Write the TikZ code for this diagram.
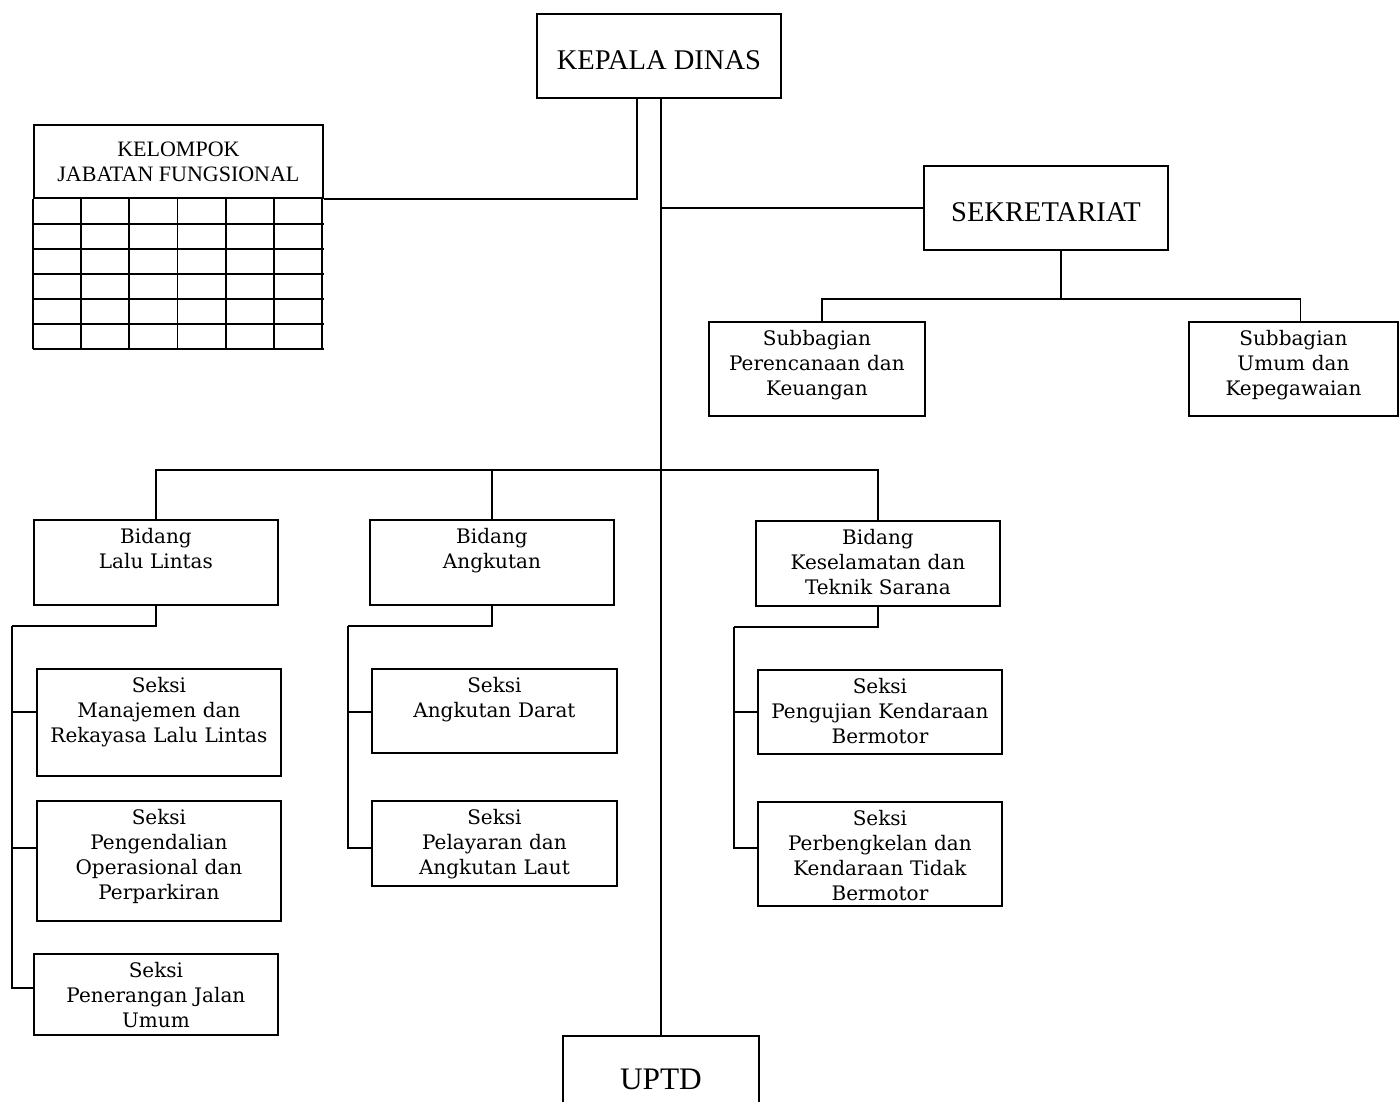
\documentclass[tikz,border=0pt]{standalone}
\usepackage{fontspec}
\setmainfont{Liberation Serif}
\newfontfamily\bookfont{DejaVu Serif}
\usetikzlibrary{calc,positioning}

\tikzset{
  box/.style={draw, line width=1.4pt, inner sep=0pt, anchor=north west, align=center},
  chief/.style={box, minimum width=183pt, minimum height=63pt, text height=21pt, text depth=0pt,
    font=\fontsize{21.4}{24}\selectfont},
  unit/.style 2 args={box, text width=#1, text height=18pt, text depth=#2,
    font=\bookfont\fontsize{15}{18.75}\selectfont},
  link/.style={line width=1.4pt},
}

\begin{document}
\begin{tikzpicture}[x=0.75pt, y=-0.75pt]
\useasboundingbox (0,0) rectangle (1399,1102);

% pimpinan
\node[chief] (kadis) at (536,13) {KEPALA DINAS};
\node[chief] (sekr) at (923,165) {SEKRETARIAT};
\node[box, minimum width=216.75pt, minimum height=54.75pt,
  font=\fontsize{16.5}{18.75}\selectfont] (kjf) at (33,124) {KELOMPOK\\JABATAN FUNGSIONAL};
\node[chief, minimum width=147pt, minimum height=64.5pt, text height=16pt,
  font=\fontsize{23.5}{26}\selectfont] (uptd) at (562,1035) {UPTD};

% subbagian
\node[unit={162pt}{52.5pt}] (sub1) at (708,321) {Subbagian\\Perencanaan dan\\Keuangan};
\node[unit={156.75pt}{52.5pt}] (sub2) at (1188,321) {Subbagian\\Umum dan\\Kepegawaian};

% bidang
\node[unit={183pt}{45.75pt}] (bid1) at (33,519) {Bidang\\Lalu Lintas};
\node[unit={183pt}{45.75pt}] (bid2) at (369,519) {Bidang\\Angkutan};
\node[unit={183pt}{45.75pt}] (bid3) at (755,520) {Bidang\\Keselamatan dan\\Teknik Sarana};

% seksi
\node[unit={183pt}{62.25pt}] (s11) at (36,668) {Seksi\\Manajemen dan\\Rekayasa Lalu Lintas};
\node[unit={183pt}{72pt}] (s12) at (36,800) {Seksi\\Pengendalian\\Operasional dan\\Perparkiran};
\node[unit={183pt}{42.75pt}] (s13) at (33,953) {Seksi\\Penerangan Jalan\\Umum};
\node[unit={183.75pt}{45pt}] (s21) at (371,668) {Seksi\\Angkutan Darat};
\node[unit={183.75pt}{45.75pt}] (s22) at (371,800) {Seksi\\Pelayaran dan\\Angkutan Laut};
\node[unit={183pt}{45pt}] (s31) at (757,669) {Seksi\\Pengujian Kendaraan\\Bermotor};
\node[unit={183pt}{60pt}] (s32) at (757,801) {Seksi\\Perbengkelan dan\\Kendaraan Tidak\\Bermotor};

\coordinate (rail1) at (12,626);
\coordinate (rail2) at (348,626);
\coordinate (rail3) at (734,627);

% tabel jabatan fungsional
\foreach \r in {1,...,6}
  \draw[link] ($(kjf.south west)+(0,25*\r)$) -- ($(kjf.south east)+(0,25*\r)$);
\foreach \c in {0,...,6}
  \draw[link] ($(kjf.south west)+(48.17*\c,0)$) -- ++(0,150);

% garis komando
\draw[link] (kadis.south -| uptd.north) -- (uptd.north);
\draw[link] (kjf.south east) -| ($(kadis.south)+(-22,0)$);
\draw[link] (sekr.west) -- (sekr.west -| uptd.north);
\draw[link] ($(sekr.south)+(15,0)$) -- ++(0,48);
\draw[link] ($(sub1.north)+(5,0)$) |- ($(sekr.south)+(15,48)$) -| ($(sub2.north)+(7,0)$);
\draw[link] (bid1.north) -- ++(0,-49) -| (bid3.north);
\draw[link] (bid2.north) -- ++(0,-49);
\draw[link] (bid1.south) |- (rail1);
\draw[link] (bid2.south) |- (rail2);
\draw[link] (bid3.south) |- (rail3);
\foreach \s/\r/\d in {s11/rail1/44, s12/rail1/48, s13/rail1/35, s21/rail2/44,
    s22/rail2/48, s31/rail3/43, s32/rail3/47}
  \draw[link] ($(\s.north west)+(0,\d)$) -| (\r);
\end{tikzpicture}
\end{document}
